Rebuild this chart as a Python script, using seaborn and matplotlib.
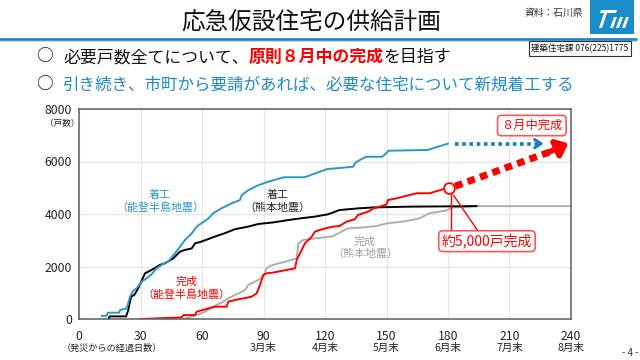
import matplotlib
matplotlib.use("Agg")
import matplotlib.pyplot as plt
import matplotlib.transforms as mtransforms
from matplotlib.patches import Rectangle, Polygon
from matplotlib.lines import Line2D
import seaborn as sns
import pandas as pd

# ---------------- data ----------------
noto_start_days = [11, 13.5, 14, 19.5, 20, 23.3, 24.9, 26.5, 28.1, 30.6, 33, 35.4, 37.9, 40.3,
                   43.6, 46.8, 49.3, 51.7, 55, 57.4, 59.8, 63.1, 65.5, 69.6, 74.5, 78.5, 79.4,
                   82.6, 87.5, 92.3, 100, 110, 121, 133.7, 135, 140, 148, 151, 170, 180]
noto_start_units = [120, 120, 240, 240, 340, 410, 850, 1080, 1170, 1420, 1550, 1700, 1930, 2060,
                    2190, 2500, 2760, 3010, 3260, 3520, 3650, 3830, 4030, 4220, 4410, 4530, 4720,
                    4910, 5100, 5230, 5400, 5400, 5710, 5800, 5970, 6180, 6180, 6410, 6440, 6680]

kuma_start_days = [14.3, 15, 23, 24, 25.4, 27, 28.9, 32.2, 35.4, 39.5, 41.9, 46, 49.3, 51.7, 55,
                   56.6, 59.8, 66.3, 71.2, 76, 82.6, 87.5, 94.8, 102.1, 108.6, 115.1, 121.6, 127,
                   135.4, 143.4, 161.5, 194]
kuma_start_units = [0, 100, 100, 340, 850, 920, 1170, 1740, 1870, 2060, 2120, 2310, 2570, 2630,
                    2690, 2880, 2950, 3140, 3270, 3420, 3520, 3620, 3680, 3770, 3840, 3900, 3990,
                    4150, 4210, 4250, 4280, 4300]

noto_done_days = [30, 50, 51, 56.6, 57.4, 66.3, 72, 72.8, 77.7, 81.8, 84.2, 86.7, 88.3, 89.9, 91.5,
                  94.8, 105.4, 106.2, 110.2, 113.5, 115.1, 120, 124, 127, 130.6, 134.6, 136, 141,
                  143.6, 150, 150.7, 155, 164.7, 171, 180]
noto_done_units = [0, 60, 150, 150, 280, 470, 470, 660, 750, 810, 850, 980, 1300, 1680, 1740,
                   1770, 1930, 2250, 2880, 3130, 3330, 3450, 3520, 3540, 3710, 3800, 3960, 4090,
                   4210, 4360, 4530, 4600, 4790, 4790, 5000]

kuma_done_days = [51, 55, 57.4, 61.5, 65.5, 70.4, 72.8, 76, 81, 82.6, 87.5, 89.9, 91.5, 93.2,
                  97.2, 100.5, 106.2, 107, 109.4, 111.9, 115, 120, 124, 131, 138.7, 145, 150,
                  158, 166, 171, 179, 182.5, 194, 240]
kuma_done_units = [0, 100, 150, 280, 470, 660, 790, 910, 1100, 1300, 1490, 1610, 1930, 2020,
                   2120, 2180, 2310, 2880, 3010, 3040, 3070, 3110, 3160, 3450, 3490, 3540, 3640,
                   3710, 3830, 4030, 4130, 4250, 4300, 4300]

# projections
proj_start_days = [183.5, 223.5]
proj_start_units = [6680, 6680]
proj_done_days = [183.5, 229.5, 238.7]
proj_done_units = [5060, 6360, 6690]
now_day, now_units = [180.5], [4990]

x_ticks = [0, 30, 60, 90, 120, 150, 180, 210, 240]
month_ticks = [90, 120, 150, 180, 210, 240]
month_labels = ["3月末", "4月末", "5月末", "6月末", "7月末", "8月末"]
y_ticks = [0, 2000, 4000, 6000, 8000]

BLUE = "#2A98C6"
BLUE_TXT = "#1C8BC9"
BLUE_DARK = "#1A7DB8"
RED = "#FF0000"
GRAY = "#AEAEAE"

sns.set_style("white")
plt.rcParams["font.family"] = ["Noto Sans CJK JP", "DejaVu Sans"]

fig = plt.figure(figsize=(6.4, 3.6), dpi=100)
fig.patch.set_facecolor("white")


def fx(px):
    return px / 640


def fy(py):
    return 1 - py / 360


ax = fig.add_axes([fx(79), fy(319), 492 / 640, 210 / 360])

frames = []
for name, d, u in [("kuma_done", kuma_done_days, kuma_done_units),
                   ("kuma_start", kuma_start_days, kuma_start_units),
                   ("noto_start", noto_start_days, noto_start_units),
                   ("noto_done", noto_done_days, noto_done_units)]:
    frames.append(pd.DataFrame({"day": d, "units": u, "series": name}))
df = pd.concat(frames, ignore_index=True)

palette = {"kuma_done": GRAY, "kuma_start": "black", "noto_start": BLUE, "noto_done": RED}
sns.lineplot(data=df, x="day", y="units", hue="series",
             hue_order=["kuma_done", "kuma_start", "noto_start", "noto_done"],
             palette=palette, estimator=None, sort=False, legend=False,
             linewidth=1.4, ax=ax)

# projections
sns.lineplot(x=proj_start_days, y=proj_start_units, color=BLUE_DARK, linewidth=2.6,
             linestyle=(0, (1, 1)), ax=ax, estimator=None, sort=False)
ax.annotate("", xy=(proj_start_days[-1] + 4.5, proj_start_units[-1]),
            xytext=(proj_start_days[-1] - 1, proj_start_units[-1]),
            arrowprops=dict(arrowstyle="->,head_length=0.45,head_width=0.3",
                            lw=2.2, color=BLUE_DARK))

sns.lineplot(x=proj_done_days[:2], y=proj_done_units[:2], color=RED, linewidth=5,
             linestyle=(0, (1.1, 0.8)), ax=ax, estimator=None, sort=False)
ax.annotate("", xy=(proj_done_days[2], proj_done_units[2]),
            xytext=(proj_done_days[1] - 2, proj_done_units[1] - 60),
            arrowprops=dict(arrowstyle="-|>,head_length=0.65,head_width=0.55",
                            lw=4, color=RED, shrinkA=0, shrinkB=0))

# callout connector + circle
ax.plot([181.3, 181.3], [4760, 3330], color=RED, lw=1)
ax.plot([182.6, 194.8], [4724, 3330], color=RED, lw=1)
sns.scatterplot(x=now_day, y=now_units, s=60, color="white", edgecolor=RED,
                linewidth=1.3, ax=ax, zorder=5)

ax.set_xlim(0, 240)
ax.set_ylim(0, 8000)
ax.set_xticks(x_ticks)
ax.set_yticks(y_ticks)
ax.set_xlabel("")
ax.set_ylabel("")
ax.grid(True, color="#E6E6E6", lw=0.9)
ax.set_axisbelow(True)
for s in ax.spines.values():
    s.set_color("#5E5E5E")
    s.set_linewidth(1.1)
ax.tick_params(axis="both", length=0, labelsize=8.8, colors="#222222")
ax.tick_params(axis="x", pad=8)
ax.tick_params(axis="y", pad=5)

trans = mtransforms.blended_transform_factory(ax.transData, ax.transAxes)
for d, lab in zip(month_ticks, month_labels):
    ax.text(d, -(348 - 319) / 210, lab, transform=trans, ha="center", va="center",
            fontsize=7.6, color="#222222")

# series labels
lab_kw = dict(ha="center", va="center", fontsize=7.9, linespacing=1.2)
ax.text(39.5, 4476, "着工\n（能登半島地震）", color=BLUE, **lab_kw)
ax.text(97, 4476, "着工\n（熊本地震）", color="#222222", **lab_kw)
ax.text(52.5, 1180, "完成\n（能登半島地震）", color=RED, **lab_kw)
ax.text(139.5, 2720, "完成\n（熊本地震）", color="#A0A0A0", **lab_kw)

ax.text(220.9, 7371, "８月中完成", color=RED, ha="center", va="center", fontsize=8.8,
        bbox=dict(boxstyle="round,pad=0.3,rounding_size=0.3", fc="white", ec="#FF5555", lw=1.2))
ax.text(199, 2964, "約5,000戸完成", color=RED, ha="center", va="center", fontsize=10,
        bbox=dict(boxstyle="round,pad=0.22,rounding_size=0.3", fc="white", ec="#FF5555", lw=1.2),
        zorder=6)

# axis annotations
fig.text(fx(62), fy(123), "（戸数）", ha="center", va="center", fontsize=6.2, color="#222222")
fig.text(fx(112), fy(348), "（発災からの経過日数）", ha="center", va="center", fontsize=6.6,
         color="#222222")

# ---------------- header ----------------
fig.text(fx(311), fy(22), "応急仮設住宅の供給計画", ha="center", va="center", fontsize=17,
         color="#111111")
fig.add_artist(Line2D([0, fx(636)], [fy(38.5), fy(38.5)], color="#1E88C7", lw=2,
                      transform=fig.transFigure))
fig.add_artist(Line2D([0, fx(636)], [fy(40.5), fy(40.5)], color="#D5D5D5", lw=0.8,
                      transform=fig.transFigure))
fig.text(fx(554), fy(13), "資料：石川県", ha="center", va="center", fontsize=7, color="#333333")

# logo
fig.add_artist(Rectangle((fx(590), fy(34)), 44 / 640, 34 / 360, transform=fig.transFigure,
                         facecolor="#1A8DC8", edgecolor="none"))
for pts in [
    [(601, 10), (617, 10), (616, 13), (600, 13)],
    [(605, 10), (608, 10), (602, 28), (599, 28)],
    [(614, 17), (617, 17), (613, 28), (610, 28)],
    [(620, 17), (623, 17), (619, 28), (616, 28)],
    [(626, 17), (629, 17), (625, 28), (622, 28)],
]:
    fig.add_artist(Polygon([(fx(a), fy(b)) for a, b in pts], closed=True,
                           transform=fig.transFigure, facecolor="white", edgecolor="none"))

fig.text(fx(580), fy(48.5), "建築住宅課 076(225)1775", ha="center", va="center", fontsize=6.1,
         color="#111111",
         bbox=dict(boxstyle="square,pad=0.3", fc="white", ec="#333333", lw=0.8))

# bullet lines
renderer = fig.canvas.get_renderer()
fig.text(fx(44), fy(57), "○", ha="center", va="center", fontsize=12, color="#111111")
x = 63
for s, col, wt in [("必要戸数全てについて、", "#111111", "normal"),
                   ("原則８月中の完成", RED, "bold"),
                   ("を目指す", "#111111", "normal")]:
    t = fig.text(fx(x), fy(57), s, ha="left", va="center", fontsize=12.2, color=col,
                 fontweight=wt)
    x += t.get_window_extent(renderer=renderer).width

fig.text(fx(44), fy(85), "○", ha="center", va="center", fontsize=12, color="#111111")
fig.text(fx(63), fy(85), "引き続き、市町から要請があれば、必要な住宅について新規着工する",
         ha="left", va="center", fontsize=11.9, color=BLUE_TXT)

fig.text(fx(630), fy(353), "- 4 -", ha="center", va="center", fontsize=7, color="#333333")

fig.savefig("out.png", dpi=100)
